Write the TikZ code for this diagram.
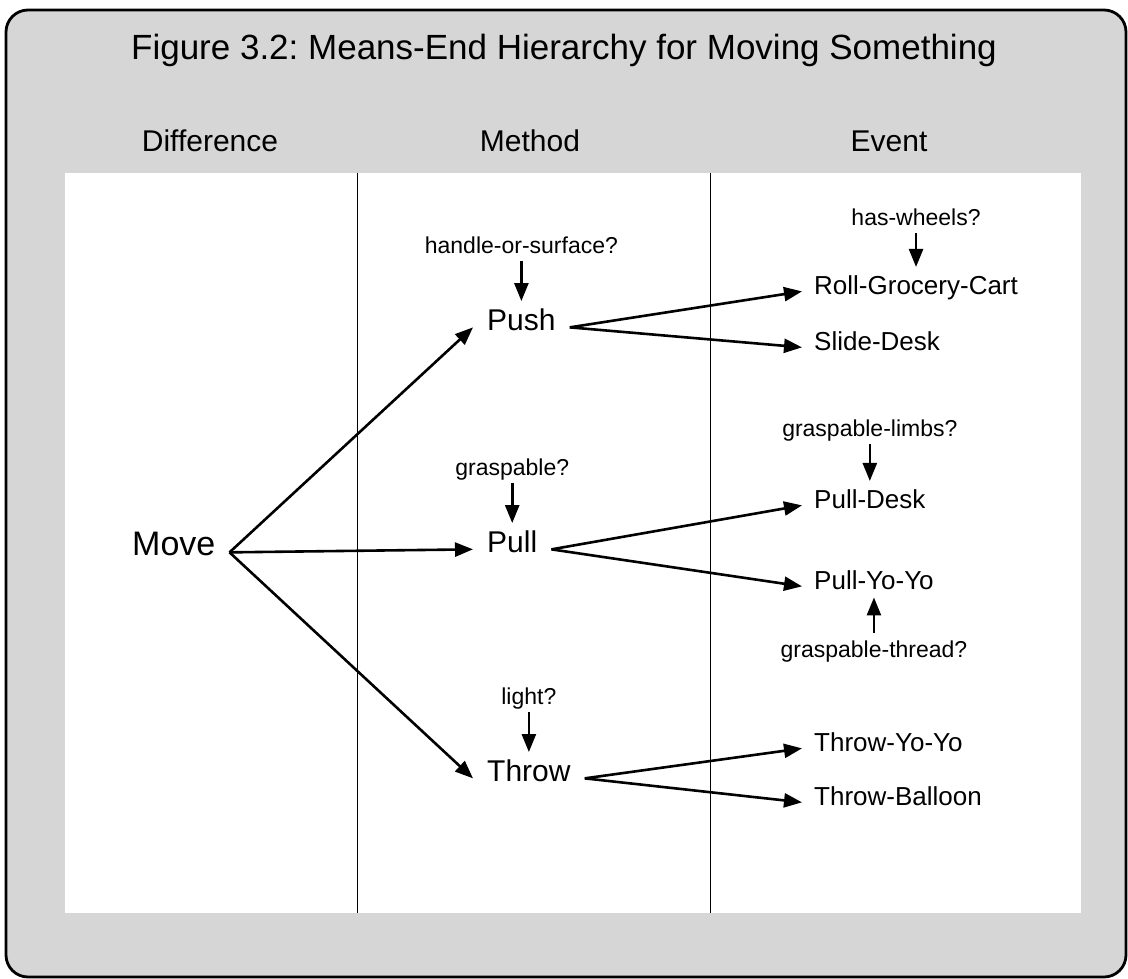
\documentclass[tikz,border=0pt]{standalone}
\usepackage{fontspec}
\setmainfont{Liberation Sans}
\usetikzlibrary{arrows.meta,positioning}
\frenchspacing

\begin{document}
\begin{tikzpicture}[x=1pt,y=-1pt,>={Triangle[length=18pt,width=14pt]},
	heading/.style={font=\fontsize{30}{36}\selectfont,anchor=base},
	root/.style={font=\fontsize{34}{40}\selectfont,anchor=base west,inner xsep=14pt},
	method/.style={font=\fontsize{30}{36}\selectfont,anchor=base west,inner xsep=14pt,inner ysep=7pt},
	event/.style={font=\fontsize{26}{31}\selectfont,anchor=base west,inner xsep=12pt,inner ysep=8pt},
	test/.style={font=\fontsize{23}{28}\selectfont,text depth=0pt,inner ysep=7pt},
	link/.style={->,line width=2.6pt},
	rule/.style={line width=1pt}]
			\useasboundingbox (0,0) rectangle (1128,979);
			\draw[rounded corners=22pt,line width=2.8pt,fill=black!16] (6,10) rectangle (1126,977);
			\fill[white] (65,173) rectangle (1081,913);
			\draw[rule] (357,173) -- (357,913);
			\draw[rule] (710,173) -- (710,913);
			\node[anchor=base,font=\fontsize{35}{42}\selectfont] (title) at (564,60) {Figure 3.2: Means-End Hierarchy for Moving Something};
			\node[heading] (diff) at (210,152) {Difference};
			\node[heading] (meth) at (530,152) {Method};
			\node[heading] (even) at (889,152) {Event};
			\node[root]   (move)  at (118,555) {Move};
			\node[method] (push)  at (473,330) {Push};
			\node[method] (pull)  at (473,552) {Pull};
			\node[method] (throw) at (473,781) {Throw};
			\node[event] (roll)      at (802,294) {Roll-Grocery-Cart};
			\node[event] (slide)     at (802,350) {Slide-Desk};
			\node[event] (pulldesk)  at (802,508) {Pull-Desk};
			\node[event] (pullyoyo)  at (802,589) {Pull-Yo-Yo};
			\node[event] (throwyoyo) at (802,751) {Throw-Yo-Yo};
			\node[event] (balloon)   at (802,805) {Throw-Balloon};
			\node[test, above=40pt of push]     (handle)    {handle-or-surface?};
			\node[test, above=40pt of pull]     (graspable) {graspable?};
			\node[test, above=40pt of throw]    (light)     {light?};
			\node[test, above=34pt of roll]     (wheels)    {has-wheels?};
			\node[test, above=37pt of pulldesk] (limbs)     {graspable-limbs?};
			\node[test, below=36pt of pullyoyo] (thread)    {graspable-thread?};
			\draw[link] (move.mid east)  -- (push.mid west);
			\draw[link] (move.mid east)  -- (pull.mid west);
			\draw[link] (move.mid east)  -- (throw.mid west);
			\draw[link] (push.mid east)  -- (roll.mid west);
			\draw[link] (push.mid east)  -- (slide.mid west);
			\draw[link] (pull.mid east)  -- (pulldesk.mid west);
			\draw[link] (pull.mid east)  -- (pullyoyo.mid west);
			\draw[link] (throw.mid east) -- (throwyoyo.mid west);
			\draw[link] (throw.mid east) -- (balloon.mid west);
			\draw[link] (handle)    -- (push);
			\draw[link] (graspable) -- (pull);
			\draw[link] (light)     -- (throw);
			\draw[link] (wheels)    -- (roll);
			\draw[link] (limbs)     -- (pulldesk);
			\draw[link] (thread)    -- (pullyoyo);
		\end{tikzpicture}
\end{document}
